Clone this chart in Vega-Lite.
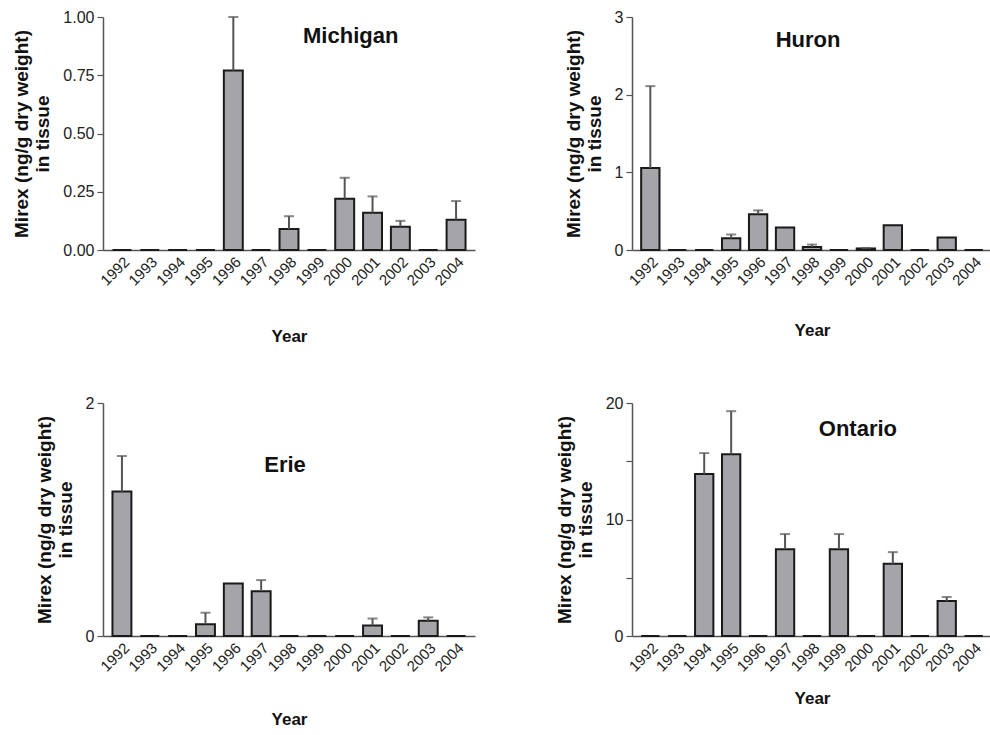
{
  "$schema": "https://vega.github.io/schema/vega-lite/v6.json",
  "padding": {"left": 12, "top": 9, "right": 0, "bottom": 0},
  "background": "white",
  "config": {
    "font": "Liberation Sans",
    "view": {"stroke": null},
    "axis": {
      "domainColor": "#555555",
      "domainWidth": 1.5,
      "tickColor": "#555555",
      "tickWidth": 1.2,
      "labelColor": "#222222",
      "labelFont": "Liberation Sans",
      "titleFont": "Liberation Sans",
      "titleColor": "#111111",
      "grid": false
    },
    "axisX": {"ticks": false, "labelAngle": -45, "labelFontSize": 15, "titleFontSize": 17, "titleFontWeight": "bold", "labelPadding": 4},
    "axisY": {"tickSize": 6, "labelFontSize": 16, "titleFontSize": 19, "titleFontWeight": "bold", "titleLineHeight": 21, "titlePadding": 10, "labelPadding": 3}
  },
  "datasets": {
    "mirex": [
      {"lake": "Michigan", "year": "1992", "value": 0},
      {"lake": "Michigan", "year": "1993", "value": 0},
      {"lake": "Michigan", "year": "1994", "value": 0},
      {"lake": "Michigan", "year": "1995", "value": 0},
      {"lake": "Michigan", "year": "1996", "value": 0.77, "err": 1.0},
      {"lake": "Michigan", "year": "1997", "value": 0},
      {"lake": "Michigan", "year": "1998", "value": 0.09, "err": 0.145},
      {"lake": "Michigan", "year": "1999", "value": 0},
      {"lake": "Michigan", "year": "2000", "value": 0.22, "err": 0.31},
      {"lake": "Michigan", "year": "2001", "value": 0.16, "err": 0.23},
      {"lake": "Michigan", "year": "2002", "value": 0.10, "err": 0.125},
      {"lake": "Michigan", "year": "2003", "value": 0},
      {"lake": "Michigan", "year": "2004", "value": 0.13, "err": 0.21},
      {"lake": "Huron", "year": "1992", "value": 1.055, "err": 2.11},
      {"lake": "Huron", "year": "1993", "value": 0},
      {"lake": "Huron", "year": "1994", "value": 0},
      {"lake": "Huron", "year": "1995", "value": 0.15, "err": 0.2},
      {"lake": "Huron", "year": "1996", "value": 0.46, "err": 0.51},
      {"lake": "Huron", "year": "1997", "value": 0.29},
      {"lake": "Huron", "year": "1998", "value": 0.04, "err": 0.07},
      {"lake": "Huron", "year": "1999", "value": 0},
      {"lake": "Huron", "year": "2000", "value": 0.02, "err": 0.025},
      {"lake": "Huron", "year": "2001", "value": 0.32},
      {"lake": "Huron", "year": "2002", "value": 0},
      {"lake": "Huron", "year": "2003", "value": 0.16},
      {"lake": "Huron", "year": "2004", "value": 0},
      {"lake": "Erie", "year": "1992", "value": 1.24, "err": 1.545},
      {"lake": "Erie", "year": "1993", "value": 0},
      {"lake": "Erie", "year": "1994", "value": 0},
      {"lake": "Erie", "year": "1995", "value": 0.10, "err": 0.2},
      {"lake": "Erie", "year": "1996", "value": 0.45},
      {"lake": "Erie", "year": "1997", "value": 0.385, "err": 0.48},
      {"lake": "Erie", "year": "1998", "value": 0},
      {"lake": "Erie", "year": "1999", "value": 0},
      {"lake": "Erie", "year": "2000", "value": 0},
      {"lake": "Erie", "year": "2001", "value": 0.09, "err": 0.15},
      {"lake": "Erie", "year": "2002", "value": 0},
      {"lake": "Erie", "year": "2003", "value": 0.13, "err": 0.16},
      {"lake": "Erie", "year": "2004", "value": 0},
      {"lake": "Ontario", "year": "1992", "value": 0},
      {"lake": "Ontario", "year": "1993", "value": 0},
      {"lake": "Ontario", "year": "1994", "value": 13.9, "err": 15.7},
      {"lake": "Ontario", "year": "1995", "value": 15.6, "err": 19.3},
      {"lake": "Ontario", "year": "1996", "value": 0},
      {"lake": "Ontario", "year": "1997", "value": 7.45, "err": 8.75},
      {"lake": "Ontario", "year": "1998", "value": 0},
      {"lake": "Ontario", "year": "1999", "value": 7.45, "err": 8.75},
      {"lake": "Ontario", "year": "2000", "value": 0},
      {"lake": "Ontario", "year": "2001", "value": 6.2, "err": 7.2},
      {"lake": "Ontario", "year": "2002", "value": 0},
      {"lake": "Ontario", "year": "2003", "value": 3.0, "err": 3.35},
      {"lake": "Ontario", "year": "2004", "value": 0}
    ],
    "names": [
      {"lake": "Michigan", "year": "2000", "value": 0.92},
      {"lake": "Huron", "year": "1998", "value": 2.7},
      {"lake": "Erie", "year": "1998", "value": 1.47},
      {"lake": "Ontario", "year": "2000", "value": 17.8}
    ]
  },
  "columns": 2,
  "spacing": {"column": 80, "row": 50},
  "concat": [
    {
      "width": 372, "height": 233,
      "layer": [
        {"data": {"name": "mirex"}, "transform": [{"filter": "datum.lake == 'Michigan'"}],
         "mark": {"type": "bar", "fill": "#a4a4a9", "stroke": "#1a1a1a", "strokeWidth": 2},
         "encoding": {
           "x": {"field": "year", "type": "ordinal", "scale": {"paddingInner": 0.32, "paddingOuter": 0.34}, "axis": {"title": "Year", "titlePadding": 40}},
           "y": {"field": "value", "type": "quantitative", "scale": {"domain": [0, 1], "nice": false}, "axis": {"title": ["Mirex (ng/g dry weight)", "in tissue"], "values": [0, 0.25, 0.5, 0.75, 1], "format": ".2f"}}
         }},
        {"data": {"name": "mirex"}, "transform": [{"filter": "datum.lake == 'Michigan' && isValid(datum.err)"}],
         "mark": {"type": "rule", "color": "#555555", "strokeWidth": 2},
         "encoding": {"x": {"field": "year", "type": "ordinal"}, "y": {"field": "value", "type": "quantitative"}, "y2": {"field": "err"}}},
        {"data": {"name": "mirex"}, "transform": [{"filter": "datum.lake == 'Michigan' && isValid(datum.err)"}],
         "mark": {"type": "tick", "color": "#555555", "thickness": 2, "size": 10, "orient": "horizontal"},
         "encoding": {"x": {"field": "year", "type": "ordinal"}, "y": {"field": "err", "type": "quantitative"}}},
        {"data": {"name": "names"}, "transform": [{"filter": "datum.lake == 'Michigan'"}],
         "mark": {"type": "text", "fontSize": 22, "fontWeight": "bold", "color": "#111111", "dx": 6},
         "encoding": {"x": {"field": "year", "type": "ordinal"}, "y": {"field": "value", "type": "quantitative"}, "text": {"field": "lake"}}}
      ]
    },
    {
      "width": 360, "height": 233,
      "layer": [
        {"data": {"name": "mirex"}, "transform": [{"filter": "datum.lake == 'Huron'"}],
         "mark": {"type": "bar", "fill": "#a4a4a9", "stroke": "#1a1a1a", "strokeWidth": 2},
         "encoding": {
           "x": {"field": "year", "type": "ordinal", "scale": {"paddingInner": 0.32, "paddingOuter": 0.34}, "axis": {"title": "Year", "titlePadding": 34}},
           "y": {"field": "value", "type": "quantitative", "scale": {"domain": [0, 3], "nice": false}, "axis": {"title": ["Mirex (ng/g dry weight)", "in tissue"], "values": [0, 0.5, 1, 1.5, 2, 2.5, 3], "format": "d", "labelExpr": "datum.value % 1 == 0 ? datum.label : ''"}}
         }},
        {"data": {"name": "mirex"}, "transform": [{"filter": "datum.lake == 'Huron' && isValid(datum.err)"}],
         "mark": {"type": "rule", "color": "#555555", "strokeWidth": 2},
         "encoding": {"x": {"field": "year", "type": "ordinal"}, "y": {"field": "value", "type": "quantitative"}, "y2": {"field": "err"}}},
        {"data": {"name": "mirex"}, "transform": [{"filter": "datum.lake == 'Huron' && isValid(datum.err)"}],
         "mark": {"type": "tick", "color": "#555555", "thickness": 2, "size": 10, "orient": "horizontal"},
         "encoding": {"x": {"field": "year", "type": "ordinal"}, "y": {"field": "err", "type": "quantitative"}}},
        {"data": {"name": "names"}, "transform": [{"filter": "datum.lake == 'Huron'"}],
         "mark": {"type": "text", "fontSize": 22, "fontWeight": "bold", "color": "#111111", "dx": -4},
         "encoding": {"x": {"field": "year", "type": "ordinal"}, "y": {"field": "value", "type": "quantitative"}, "text": {"field": "lake"}}}
      ]
    },
    {
      "width": 372, "height": 233,
      "layer": [
        {"data": {"name": "mirex"}, "transform": [{"filter": "datum.lake == 'Erie'"}],
         "mark": {"type": "bar", "fill": "#a4a4a9", "stroke": "#1a1a1a", "strokeWidth": 2},
         "encoding": {
           "x": {"field": "year", "type": "ordinal", "scale": {"paddingInner": 0.32, "paddingOuter": 0.34}, "axis": {"title": "Year", "titlePadding": 37}},
           "y": {"field": "value", "type": "quantitative", "scale": {"domain": [0, 2], "nice": false}, "axis": {"title": ["Mirex (ng/g dry weight)", "in tissue"], "values": [0, 0.5, 1, 1.5, 2], "format": "d", "labelExpr": "datum.value % 1 == 0 ? datum.label : ''"}}
         }},
        {"data": {"name": "mirex"}, "transform": [{"filter": "datum.lake == 'Erie' && isValid(datum.err)"}],
         "mark": {"type": "rule", "color": "#555555", "strokeWidth": 2},
         "encoding": {"x": {"field": "year", "type": "ordinal"}, "y": {"field": "value", "type": "quantitative"}, "y2": {"field": "err"}}},
        {"data": {"name": "mirex"}, "transform": [{"filter": "datum.lake == 'Erie' && isValid(datum.err)"}],
         "mark": {"type": "tick", "color": "#555555", "thickness": 2, "size": 10, "orient": "horizontal"},
         "encoding": {"x": {"field": "year", "type": "ordinal"}, "y": {"field": "err", "type": "quantitative"}}},
        {"data": {"name": "names"}, "transform": [{"filter": "datum.lake == 'Erie'"}],
         "mark": {"type": "text", "fontSize": 22, "fontWeight": "bold", "color": "#111111", "dx": -4},
         "encoding": {"x": {"field": "year", "type": "ordinal"}, "y": {"field": "value", "type": "quantitative"}, "text": {"field": "lake"}}}
      ]
    },
    {
      "width": 360, "height": 233,
      "layer": [
        {"data": {"name": "mirex"}, "transform": [{"filter": "datum.lake == 'Ontario'"}],
         "mark": {"type": "bar", "fill": "#a4a4a9", "stroke": "#1a1a1a", "strokeWidth": 2},
         "encoding": {
           "x": {"field": "year", "type": "ordinal", "scale": {"paddingInner": 0.32, "paddingOuter": 0.34}, "axis": {"title": "Year", "titlePadding": 16}},
           "y": {"field": "value", "type": "quantitative", "scale": {"domain": [0, 20], "nice": false}, "axis": {"title": ["Mirex (ng/g dry weight)", "in tissue"], "values": [0, 5, 10, 15, 20], "format": "d", "labelExpr": "datum.value % 10 == 0 ? datum.label : ''"}}
         }},
        {"data": {"name": "mirex"}, "transform": [{"filter": "datum.lake == 'Ontario' && isValid(datum.err)"}],
         "mark": {"type": "rule", "color": "#555555", "strokeWidth": 2},
         "encoding": {"x": {"field": "year", "type": "ordinal"}, "y": {"field": "value", "type": "quantitative"}, "y2": {"field": "err"}}},
        {"data": {"name": "mirex"}, "transform": [{"filter": "datum.lake == 'Ontario' && isValid(datum.err)"}],
         "mark": {"type": "tick", "color": "#555555", "thickness": 2, "size": 10, "orient": "horizontal"},
         "encoding": {"x": {"field": "year", "type": "ordinal"}, "y": {"field": "err", "type": "quantitative"}}},
        {"data": {"name": "names"}, "transform": [{"filter": "datum.lake == 'Ontario'"}],
         "mark": {"type": "text", "fontSize": 22, "fontWeight": "bold", "color": "#111111", "dx": -8},
         "encoding": {"x": {"field": "year", "type": "ordinal"}, "y": {"field": "value", "type": "quantitative"}, "text": {"field": "lake"}}}
      ]
    }
  ]
}
